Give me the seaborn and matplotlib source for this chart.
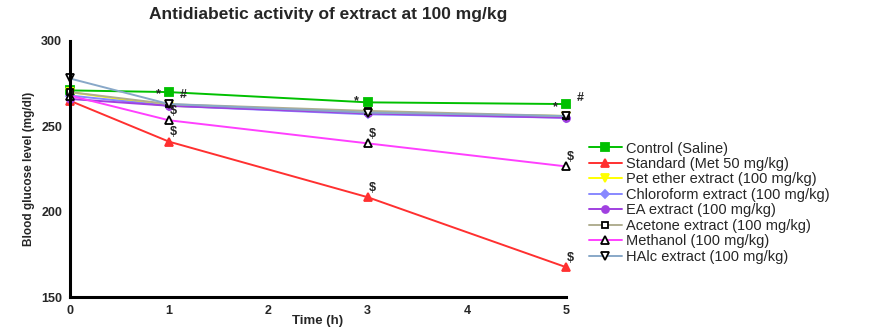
import numpy as np
import pandas as pd
import seaborn as sns
import matplotlib.pyplot as plt

time_h = [0, 1, 3, 5]
groups = ["Control (Saline)", "Standard (Met 50 mg/kg)", "Pet ether extract (100 mg/kg)",
          "Chloroform extract (100 mg/kg)", "EA extract (100 mg/kg)",
          "Acetone extract (100 mg/kg)", "Methanol (100 mg/kg)", "HAlc extract (100 mg/kg)"]
control = [271, 270, 264, 263]
standard = [265, 241, 208.5, 167.5]
pet_ether = [270, 262, 258, 256]
chloroform = [268, 262, 257, 255]
ea = [266, 262, 257.5, 255]
acetone = [270, 263, 259, 256]
methanol = [268, 253.5, 240, 226.5]
halc = [278, 263, 258, 256]
annotations = [(1, 265, "*"), (1, 265, "#"), (3, 261, "*"), (5, 257.5, "*"), (5, 263, "#"),
               (1, 255.5, "$"), (1, 243, "$"), (3, 242, "$"), (3, 210.5, "$"),
               (5, 228.5, "$"), (5, 169.5, "$")]

series = [control, standard, pet_ether, chloroform, ea, acetone, methanol, halc]
colors = ["#00c000", "#ff3030", "#ffff00", "#8888ff", "#a040e0", "#b0ae90", "#ff40ff", "#88a8c8"]
markers = ["s", "^", "v", "D", "o", "s", "^", "v"]
mfaces = ["#00c000", "#ff3030", "#ffff00", "#8888ff", "#a040e0", "white", "white", "white"]
medges = ["#00c000", "#ff3030", "#ffff00", "#8888ff", "#a040e0", "black", "black", "black"]
msizes = [6, 6, 6, 4, 5, 5, 6, 6]

df = pd.DataFrame({
    "Time (h)": time_h * len(groups),
    "glucose": sum(series, []),
    "group": np.repeat(groups, len(time_h)),
})

sns.set_style("white")
plt.rcParams["font.family"] = ["Liberation Sans", "DejaVu Sans"]
fig = plt.figure(figsize=(8.82, 3.32), dpi=100)
ax = fig.add_axes([0.079, 0.105, 0.563, 0.772])

for i, g in enumerate(groups):
    sns.lineplot(data=df[df["group"] == g], x="Time (h)", y="glucose", ax=ax,
                 color=colors[i], marker=markers[i], markersize=msizes[i],
                 markerfacecolor=mfaces[i], markeredgecolor=medges[i],
                 markeredgewidth=1.3, linewidth=1.4, label=g, clip_on=False)

offsets = {"*": -8, "#": 10, "$": 3}
for x, y, s in annotations:
    ax.annotate(s, (x, y), xytext=(offsets[s], 0), textcoords="offset points",
                ha="center", va="bottom", fontsize=9, fontweight="bold")

ax.set_xlim(0, 5)
ax.set_ylim(150, 300)
ax.set_xticks([0, 1, 2, 3, 4, 5])
ax.set_yticks([150, 200, 250, 300])
sns.despine(ax=ax)
for sp in ["left", "bottom"]:
    ax.spines[sp].set_linewidth(2.2)
    ax.spines[sp].set_color("black")
ax.tick_params(axis="both", direction="out", length=4, width=2.2, labelsize=9,
               color="black", pad=1.5)
for lab in ax.get_xticklabels() + ax.get_yticklabels():
    lab.set_fontweight("bold")
ax.set_xlabel("Time (h)", fontsize=9.5, fontweight="bold", labelpad=-1)
ax.set_ylabel("Blood glucose level (mg/dl)", fontsize=8.5, fontweight="bold", labelpad=4)
ax.set_title("Antidiabetic activity of extract at 100 mg/kg", fontsize=12.5,
             fontweight="bold", x=0.52, pad=16)
ax.legend(loc="upper left", bbox_to_anchor=(1.035, 0.63), frameon=False, fontsize=10.5,
          handlelength=2.2, handletextpad=0.3, labelspacing=0.1, borderaxespad=0)

fig.savefig("out.png", dpi=100)
